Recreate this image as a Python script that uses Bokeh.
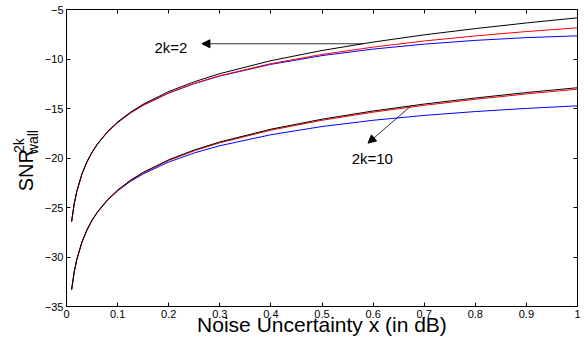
import math
from bokeh.plotting import figure
from bokeh.layouts import row
from bokeh.models import Label, Arrow, NormalHead, LinearAxis, FixedTicker, Range1d
from bokeh.core.properties import value
from bokeh.embed import file_html
from bokeh.resources import INLINE

# ---------------- data ----------------
x_db = [0.01, 0.015, 0.02, 0.03, 0.04, 0.05, 0.06, 0.08, 0.1, 0.125, 0.15,
        0.2, 0.25, 0.3, 0.4, 0.5, 0.6, 0.7, 0.8, 0.9, 1.0]

k2_black = [-26.41, -24.65, -23.40, -21.63, -20.38, -19.40, -18.61, -17.34, -16.36, -15.38, -14.57,
            -13.29, -12.30, -11.48, -10.17, -9.14, -8.29, -7.56, -6.93, -6.36, -5.84]
k2_red = [-26.42, -24.66, -23.41, -21.65, -20.40, -19.43, -18.64, -17.39, -16.42, -15.46, -14.67,
          -13.43, -12.47, -11.69, -10.47, -9.54, -8.80, -8.18, -7.67, -7.23, -6.85]
k2_blue = [-26.42, -24.66, -23.41, -21.65, -20.40, -19.43, -18.64, -17.39, -16.43, -15.46, -14.67,
           -13.44, -12.49, -11.72, -10.54, -9.66, -9.00, -8.50, -8.12, -7.84, -7.66]

k10_black = [-33.29, -31.53, -30.27, -28.51, -27.25, -26.27, -25.48, -24.22, -23.24, -22.25, -21.45,
             -20.18, -19.19, -18.38, -17.09, -16.08, -15.25, -14.55, -13.94, -13.39, -12.90]
k10_red = [-33.31, -31.55, -30.29, -28.54, -27.28, -26.30, -25.52, -24.26, -23.29, -22.30, -21.51,
           -20.25, -19.27, -18.46, -17.19, -16.19, -15.37, -14.68, -14.07, -13.53, -13.05]
k10_blue = [-33.30, -31.54, -30.28, -28.53, -27.28, -26.31, -25.53, -24.29, -23.33, -22.37, -21.61,
            -20.41, -19.49, -18.76, -17.65, -16.82, -16.19, -15.70, -15.31, -14.99, -14.73]

x_ticks = [0, 0.1, 0.2, 0.3, 0.4, 0.5, 0.6, 0.7, 0.8, 0.9, 1]
x_tick_labels = ["0", "0.1", "0.2", "0.3", "0.4", "0.5", "0.6", "0.7", "0.8", "0.9", "1"]
y_ticks = [-35, -30, -25, -20, -15, -10, -5]
y_tick_labels = ["\u221235", "\u221230", "\u221225", "\u221220", "\u221215", "\u221210", "\u22125"]

x_title = "Noise Uncertainty x (in dB)"
y_title_main = "SNR"
y_title_sup = "2k"
y_title_sub = "wall"
note_2 = "2k=2"
note_10 = "2k=10"

FONT = "Liberation Sans"
H = 337
STRIP_W = 41

# ---------------- main figure ----------------
p = figure(frame_width=511, frame_height=297,
           x_range=Range1d(0, 1), y_range=Range1d(-35, -5),
           output_backend="svg", toolbar_location=None,
           min_border_left=21, min_border_right=8, min_border_top=9, min_border_bottom=31,
           background_fill_color="white", border_fill_color="white")
p.xgrid.grid_line_color = None
p.ygrid.grid_line_color = None
p.outline_line_color = None

def style_axis(ax, ticks, labels, show_labels):
    ax.ticker = FixedTicker(ticks=ticks)
    ax.major_tick_in = 4
    ax.major_tick_out = 0
    ax.minor_tick_line_color = None
    ax.axis_line_color = "black"
    ax.axis_line_width = 1
    ax.major_tick_line_color = "black"
    if show_labels:
        ax.major_label_overrides = {t: l for t, l in zip(ticks, labels)}
        ax.major_label_text_font = FONT
        ax.major_label_text_font_size = "11px"
        ax.major_label_text_color = "black"
        ax.major_label_standoff = 3
    else:
        ax.major_label_overrides = {t: "" for t in ticks}
        ax.major_label_text_font_size = "1px"
        ax.major_label_standoff = 0

xax = p.below[0]
style_axis(xax, x_ticks, x_tick_labels, True)
style_axis(p.left[0], y_ticks, y_tick_labels, True)
xax.axis_label = x_title
xax.axis_label_text_font = FONT
xax.axis_label_text_font_size = "21px"
xax.axis_label_text_font_style = "normal"
xax.axis_label_text_color = "black"
xax.axis_label_standoff = -8

top_ax = LinearAxis()
right_ax = LinearAxis()
style_axis(top_ax, x_ticks, x_tick_labels, False)
style_axis(right_ax, y_ticks, y_tick_labels, False)
p.add_layout(top_ax, "above")
p.add_layout(right_ax, "right")

# curves (black drawn last so it lies on top)
for ys, col in [(k2_blue, "#0000ff"), (k2_red, "#ff0000"), (k2_black, "#000000"),
                (k10_blue, "#0000ff"), (k10_red, "#ff0000"), (k10_black, "#000000")]:
    p.line(x_db, ys, line_color=col, line_width=1)

# annotations
p.add_layout(Arrow(end=NormalHead(size=8, fill_color="black", line_color="black", line_width=1),
                   x_start=0.58, y_start=-8.46, x_end=0.265, y_end=-8.46,
                   line_color="black", line_width=0.8))
p.add_layout(Arrow(end=NormalHead(size=8, fill_color="black", line_color="black", line_width=1),
                   x_start=0.675, y_start=-14.70, x_end=0.590, y_end=-18.50,
                   line_color="black", line_width=0.8))
p.add_layout(Label(x=0.172, y=-8.87, text=note_2, text_font=FONT, text_font_size="15px",
                   text_color="black", text_align="left", text_baseline="alphabetic"))
p.add_layout(Label(x=0.558, y=-20.08, text=note_10, text_font=FONT, text_font_size="15px",
                   text_color="black", text_align="left", text_baseline="alphabetic"))

# ---------------- y title strip (pixel coordinates, y measured from bottom) ----------------
t = figure(width=STRIP_W, height=H, x_range=Range1d(0, STRIP_W), y_range=Range1d(0, H),
           x_axis_type=None, y_axis_type=None, output_backend="svg", toolbar_location=None,
           min_border_left=0, min_border_right=0, min_border_top=0, min_border_bottom=0,
           background_fill_color="white", border_fill_color="white")
t.outline_line_color = None
t.grid.grid_line_color = None

t.text(x=[25], y=[H - 183], text=[y_title_main], angle=math.pi / 2,
       text_font=value(FONT), text_font_size=value("20px"), text_color="black",
       text_align=value("center"), text_baseline=value("middle"))
t.text(x=[18, 32.5], y=[H - 155, H - 151], text=[y_title_sup, y_title_sub], angle=math.pi / 2,
       text_font=value(FONT), text_font_size=value("14px"), text_color="black",
       text_align=value("center"), text_baseline=value("middle"))

layout = row(t, p)
open("out.html", "w").write(file_html(layout, INLINE))
